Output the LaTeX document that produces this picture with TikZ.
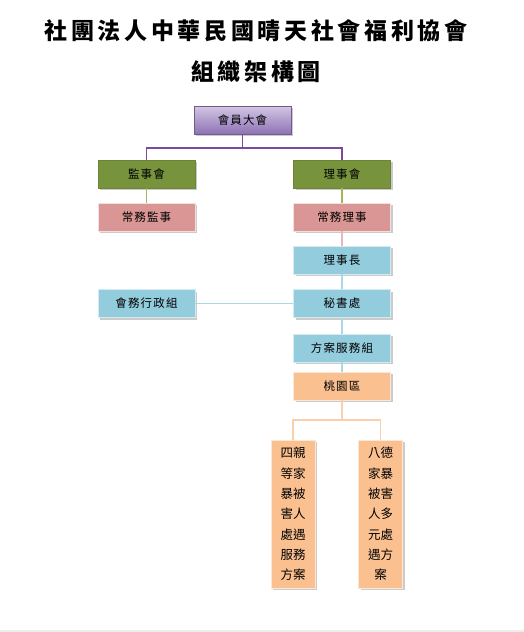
\documentclass[tikz,border=0pt]{standalone}
\usepackage{fontspec}
\newfontfamily\cjk{Noto Sans CJK TC}
\newfontfamily\cjkbox[LetterSpace=10]{Noto Sans CJK TC}
\newfontfamily\cjktitle[LetterSpace=16]{Noto Sans CJK TC}
\usetikzlibrary{shadows}
\definecolor{purpTop}{HTML}{D3C6E4}
\definecolor{purpBot}{HTML}{8E72B4}
\definecolor{purpLine}{HTML}{7A4AA0}
\definecolor{greenFill}{HTML}{77933C}
\definecolor{greenLine}{HTML}{9BBB59}
\definecolor{pinkFill}{HTML}{D99694}
\definecolor{pinkLine}{HTML}{E6B9B8}
\definecolor{blueFill}{HTML}{93CDDD}
\definecolor{blueLine}{HTML}{A9D8E4}
\definecolor{peachFill}{HTML}{FAC090}
\definecolor{peachLine}{HTML}{FBCFAC}
\tikzset{
  boxbase/.style={rectangle, minimum width=97pt, minimum height=28pt, inner sep=0pt,
    font=\cjkbox\fontsize{11.5}{13}\selectfont,
    drop shadow={shadow xshift=2pt, shadow yshift=-2pt, fill=black!40}},
  purpbox/.style={boxbase, top color=purpTop, bottom color=purpBot, draw=purpBot!80!black, line width=0.6pt},
  greenbox/.style={boxbase, fill=greenFill, draw=greenFill!90!black, line width=0.6pt},
  pinkbox/.style={boxbase, fill=pinkFill, draw=white!70!pinkFill, line width=0.6pt},
  bluebox/.style={boxbase, fill=blueFill, draw=white!60!blueFill, line width=0.6pt},
  peachbox/.style={boxbase, fill=peachFill, draw=white!60!peachFill, line width=0.6pt},
  tallbox/.style={peachbox, minimum width=44pt, minimum height=148pt, align=center,
    font=\cjk\fontsize{12.5}{20.3}\selectfont},
  conn/.style={line width=1.6pt, draw=#1},
  titletext/.style={font=\cjktitle\bfseries\fontsize{23}{26}\selectfont, inner sep=0pt}
}
\begin{document}
\begin{tikzpicture}[x=1pt,y=-1pt]
\useasboundingbox (0,0) rectangle (524,632);
\fill[white] (0,0) rectangle (524,632);
\fill[black!7] (0,630) rectangle (524,632);

\node[titletext] (t1) at (256,31) {社團法人中華民國晴天社會福利協會};
\node[titletext] (t2) at (256,72) {組織架構圖};

\node[purpbox] (hy) at (242.5,120) {會員大會};
\node[greenbox] (jian) at (146.5,174) {監事會};
\node[greenbox] (li) at (342,174) {理事會};
\node[pinkbox] (cjs) at (146.5,217) {常務監事};
\node[pinkbox] (cls) at (342,217) {常務理事};
\node[bluebox] (lsz) at (342,260) {理事長};
\node[bluebox] (hw) at (146.5,303.5) {會務行政組};
\node[bluebox] (msc) at (342,303.5) {秘書處};
\node[bluebox] (fa) at (342,348) {方案服務組};
\node[peachbox] (ty) at (342,386) {桃園區};
\node[tallbox] (b1) at (293,514) {四親\\等家\\暴被\\害人\\處遇\\服務\\方案};
\node[tallbox] (b2) at (380.5,514) {八德\\家暴\\被害\\人多\\元處\\遇方\\案};

\coordinate (pj) at (242.5,148);
\draw[conn=purpLine] (hy.south) -- (pj);
\draw[conn=purpLine] (jian.north) |- (pj) -| (li.north);
\draw[conn=greenLine] (jian.south) -- (cjs.north);
\draw[conn=greenLine] (li.south) -- (cls.north);
\draw[conn=pinkLine] (cls.south) -- (lsz.north);
\draw[conn=blueLine] (lsz.south) -- (msc.north);
\draw[conn=blueLine] (msc.south) -- (fa.north);
\draw[conn=blueLine] (fa.south) -- (ty.north);
\draw[conn=blueLine] (hw.east) -- (msc.west);
\coordinate (oj) at (342,420);
\draw[conn=peachLine] (ty.south) -- (oj);
\draw[conn=peachLine] (b1.north) |- (oj) -| (b2.north);
\end{tikzpicture}
\end{document}
